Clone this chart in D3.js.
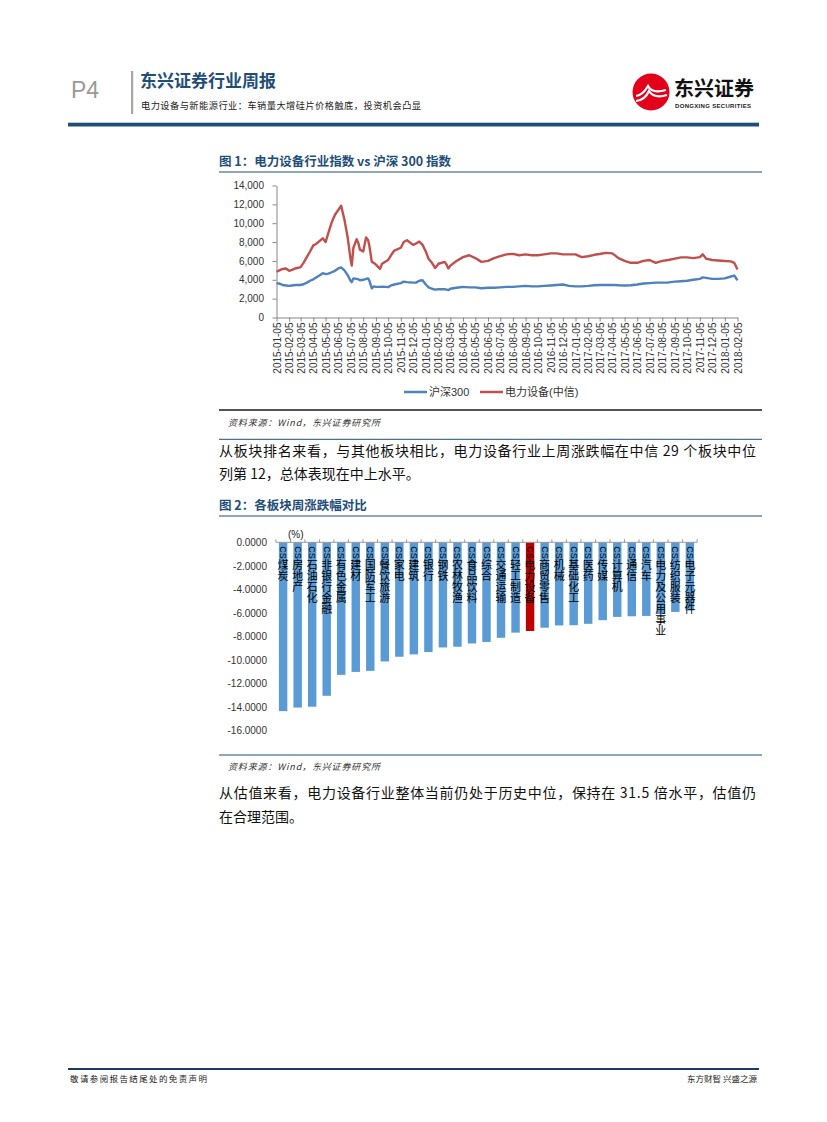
<!DOCTYPE html>
<html><head><meta charset="utf-8">
<script src="https://cdn.jsdelivr.net/npm/d3@7"></script>
<style>
body{margin:0;background:#fff;}
svg{display:block;}
text{font-family:"Liberation Sans","Noto Sans CJK SC",sans-serif;}
.cjk{font-family:"Noto Sans CJK SC",sans-serif;}
</style></head><body>
<svg id="page" width="827" height="1122"></svg>
<script>
// ---------- Chart 1 data ----------
const lineDates = [
"2015-01-05","2015-01-12","2015-01-20","2015-01-28",
"2015-02-05","2015-02-12","2015-02-20",
"2015-03-05","2015-03-12","2015-03-20","2015-03-28",
"2015-04-05","2015-04-12","2015-04-20","2015-04-28",
"2015-05-05","2015-05-12","2015-05-20","2015-05-28",
"2015-06-05","2015-06-12","2015-06-20","2015-06-28",
"2015-07-05","2015-07-08","2015-07-12","2015-07-20","2015-07-24","2015-07-28",
"2015-08-05","2015-08-12","2015-08-17","2015-08-20","2015-08-26","2015-08-31",
"2015-09-05","2015-09-15","2015-09-20",
"2015-10-05","2015-10-12","2015-10-20",
"2015-11-05","2015-11-12","2015-11-20",
"2015-12-05","2015-12-12","2015-12-20","2015-12-28",
"2016-01-05","2016-01-12","2016-01-20","2016-01-28",
"2016-02-05","2016-02-20","2016-02-25",
"2016-02-29","2016-03-05","2016-03-20",
"2016-04-05","2016-04-20","2016-05-05","2016-05-20","2016-06-05","2016-06-20",
"2016-07-05","2016-07-20","2016-08-05","2016-08-20","2016-09-05","2016-09-20",
"2016-10-05","2016-10-20","2016-11-05","2016-11-20","2016-12-05","2016-12-20",
"2017-01-05","2017-01-20","2017-02-05","2017-02-20","2017-03-05","2017-03-20",
"2017-04-05","2017-04-20","2017-05-05","2017-05-20","2017-06-05","2017-06-20",
"2017-07-05","2017-07-20","2017-08-05","2017-08-20","2017-09-05","2017-09-20",
"2017-10-05","2017-10-20","2017-11-05","2017-11-12","2017-11-20",
"2017-12-05","2017-12-20",
"2018-01-05","2018-01-20","2018-01-28","2018-02-05"
];
const hs300 = [
3620,3600,3450,3400,
3350,3400,3450,
3450,3530,3700,3900,
4050,4250,4450,4700,
4600,4650,4800,4950,
5200,5320,5000,4500,
3900,3750,4150,4100,4050,3950,
4000,4100,4150,3900,3100,3300,
3250,3250,3270,
3220,3400,3500,
3650,3800,3750,
3700,3700,3900,3950,
3500,3200,3050,2950,
3000,3000,2950,
2900,3050,3150,
3250,3200,3200,3100,3150,3150,
3200,3250,3250,3300,3350,3300,
3300,3350,3400,3450,3500,3350,
3300,3300,3350,3420,3440,3450,
3460,3420,3400,3420,3500,3600,
3650,3700,3700,3720,3800,3850,
3900,4000,4100,4250,4200,
4100,4100,
4150,4350,4450,3950
];
const dlsb = [
4850,5000,5150,5200,
4950,5050,5200,
5350,5800,6400,7000,
7650,7800,8100,8400,
8000,9000,10100,10900,
11400,11850,10400,8500,
6200,5500,7400,8300,7900,7200,
7000,8500,8200,7600,5900,5800,
5600,5150,5700,
6100,6600,7100,
7400,8000,8200,
7700,7850,8050,7700,
7000,6200,5800,5250,
5700,5900,5600,
5200,5500,6000,
6400,6600,6300,5900,6000,6300,
6500,6700,6750,6600,6700,6600,
6600,6700,6800,6800,6700,6700,
6700,6400,6500,6650,6730,6850,
6800,6300,6000,5800,5800,6000,
6100,5800,6000,6100,6250,6380,
6380,6300,6400,6700,6250,
6100,6050,
6000,5950,5800,5100
];
const lineTickLabels = [
"2015-01-05","2015-02-05","2015-03-05","2015-04-05","2015-05-05","2015-06-05",
"2015-07-05","2015-08-05","2015-09-05","2015-10-05","2015-11-05","2015-12-05",
"2016-01-05","2016-02-05","2016-03-05","2016-04-05","2016-05-05","2016-06-05",
"2016-07-05","2016-08-05","2016-09-05","2016-10-05","2016-11-05","2016-12-05",
"2017-01-05","2017-02-05","2017-03-05","2017-04-05","2017-05-05","2017-06-05",
"2017-07-05","2017-08-05","2017-09-05","2017-10-05","2017-11-05","2017-12-05",
"2018-01-05","2018-02-05"
];
const lineYTicks = [0,2000,4000,6000,8000,10000,12000,14000];
const lineSeriesNames = ["沪深300","电力设备(中信)"];
const lineColors = ["#4F81BD","#C0504D"];

// ---------- Chart 2 data ----------
const barCategories = ["CS煤炭","CS房地产","CS石油石化","CS非银行金融","CS有色金属","CS建材","CS国防军工","CS餐饮旅游","CS家电","CS建筑","CS银行","CS钢铁","CS农林牧渔","CS食品饮料","CS综合","CS交通运输","CS轻工制造","CS电力设备","CS商贸零售","CS机械","CS基础化工","CS医药","CS传媒","CS计算机","CS通信","CS汽车","CS电力及公用事业","CS纺织服装","CS电子元器件"];
const barValues = [-14.35,-14.05,-13.98,-13.05,-11.27,-11.02,-10.93,-10.13,-9.73,-9.53,-9.33,-8.94,-8.88,-8.6,-8.47,-8.12,-7.68,-7.54,-7.26,-7.07,-7.05,-6.93,-6.62,-6.34,-6.29,-6.26,-6.1,-5.92,-5.8];
const barYTicks = [0,-2,-4,-6,-8,-10,-12,-14,-16];
const barHighlight = "CS电力设备";

// ---------- Page ----------
const navy = "#1F4E79";
const svg = d3.select("#page");
svg.append("rect").attr("width",827).attr("height",1122).attr("fill","#fff");

// header
svg.append("text").attr("x",71).attr("y",98).attr("font-size",23).attr("fill","#9a9a9a").text("P4");
svg.append("rect").attr("x",131).attr("y",71).attr("width",2.2).attr("height",43).attr("fill","#a6a6a6");
svg.append("text").attr("class","cjk").attr("x",140).attr("y",86.5).attr("font-size",17).attr("font-weight","bold")
  .attr("fill",navy).text("东兴证券行业周报");
svg.append("text").attr("class","cjk").attr("x",141).attr("y",109).attr("font-size",9.2).attr("fill","#222")
  .attr("textLength",280).attr("lengthAdjust","spacing").text("电力设备与新能源行业：车销量大增硅片价格触底，投资机会凸显");
// logo
const logo = svg.append("g");
logo.append("circle").attr("cx",651).attr("cy",92).attr("r",18.5).attr("fill","#E3001B");
logo.append("path").attr("d","M636,96 Q643,95 648,86 Q652,94 666,90").attr("fill","none").attr("stroke","#fff").attr("stroke-width",2.2);
logo.append("path").attr("d","M636,101 Q645,100 649,91 Q654,99 667,95").attr("fill","none").attr("stroke","#fff").attr("stroke-width",2.2);
logo.append("text").attr("class","cjk").attr("x",674).attr("y",96).attr("font-size",20).attr("font-weight","bold")
  .attr("fill","#111").attr("textLength",80).text("东兴证券");
logo.append("text").attr("x",675).attr("y",107.5).attr("font-size",6).attr("font-weight","bold")
  .attr("fill","#222").attr("textLength",76).text("DONGXING SECURITIES");
svg.append("rect").attr("x",68).attr("y",122.7).attr("width",691).attr("height",3.8).attr("fill",navy);

// ---------- Figure 1 ----------
svg.append("text").attr("class","cjk").attr("x",219).attr("y",166).attr("font-size",12.5).attr("font-weight","bold")
  .attr("fill",navy).text("图 1：电力设备行业指数 vs 沪深 300 指数");
svg.append("line").attr("x1",219).attr("x2",762).attr("y1",172).attr("y2",172).attr("stroke",navy).attr("stroke-width",1);

const parse = d3.timeParse("%Y-%m-%d");
const tickDates = lineTickLabels.map(parse);
const x1 = d3.scaleTime().domain([tickDates[0], tickDates[tickDates.length-1]]).range([276.5, 737.5]);
const y1 = d3.scaleLinear().domain([0,14000]).range([317.5,185.5]);

const g1 = svg.append("g");
const yAx1 = g1.append("g").attr("transform","translate(276.5,0)")
  .call(d3.axisLeft(y1).tickValues(lineYTicks).tickFormat(d3.format(",")).tickSize(4).tickSizeOuter(0));
yAx1.selectAll("path,line").attr("stroke","#868686");
yAx1.selectAll("text").attr("font-size",10).attr("fill","#333").attr("x",-12.5);
const xAx1 = g1.append("g").attr("transform","translate(0,317.5)")
  .call(d3.axisBottom(x1).tickValues(tickDates).tickFormat(d3.timeFormat("%Y-%m-%d")).tickSize(4).tickSizeOuter(0));
xAx1.selectAll("path,line").attr("stroke","#868686");
xAx1.selectAll("text").attr("font-size",10).attr("fill","#333")
  .attr("transform","rotate(-90)").attr("text-anchor","end").attr("x",-5).attr("y",0).attr("dy","0.35em");

const series = [hs300, dlsb];
const line = d3.line().x(d=>x1(d.date)).y(d=>y1(d.v));
series.forEach((vals,i)=>{
  const data = lineDates.map((s,j)=>({date:parse(s), v:vals[j]}));
  g1.append("path").datum(data).attr("d",line).attr("fill","none")
    .attr("stroke",lineColors[i]).attr("stroke-width",2.4).attr("stroke-linejoin","round");
});
// legend
const legX = [404, 480];
lineSeriesNames.forEach((n,i)=>{
  g1.append("line").attr("x1",legX[i]).attr("x2",legX[i]+23).attr("y1",392).attr("y2",392)
    .attr("stroke",lineColors[i]).attr("stroke-width",2.5);
  g1.append("text").attr("x",legX[i]+25).attr("y",396).attr("font-size",11).attr("fill","#333").text(n);
});
svg.append("line").attr("x1",219).attr("x2",762).attr("y1",410).attr("y2",410).attr("stroke","#1a1a1a").attr("stroke-width",1.5);
svg.append("text").attr("class","cjk").attr("x",228).attr("y",426).attr("font-size",9).attr("font-style","italic")
  .attr("fill","#333").attr("textLength",152).attr("lengthAdjust","spacing").text("资料来源：Wind，东兴证券研究所");
svg.append("line").attr("x1",219).attr("x2",762).attr("y1",439.3).attr("y2",439.3).attr("stroke",navy).attr("stroke-width",1);

// paragraph 1
svg.append("text").attr("class","cjk").attr("x",219).attr("y",456).attr("font-size",14).attr("fill","#111")
  .attr("textLength",537).attr("lengthAdjust","spacing").text("从板块排名来看，与其他板块相比，电力设备行业上周涨跌幅在中信 29 个板块中位");
svg.append("text").attr("class","cjk").attr("x",219).attr("y",479).attr("font-size",14).attr("fill","#111")
  .text("列第 12，总体表现在中上水平。");

// ---------- Figure 2 ----------
svg.append("text").attr("class","cjk").attr("x",219).attr("y",509.5).attr("font-size",12.5).attr("font-weight","bold")
  .attr("fill",navy).text("图 2：各板块周涨跌幅对比");
svg.append("line").attr("x1",219).attr("x2",762).attr("y1",516).attr("y2",516).attr("stroke",navy).attr("stroke-width",1);

const x2 = d3.scaleBand().domain(barCategories).range([276,697]).paddingInner(0.42).paddingOuter(0.2);
const y2 = d3.scaleLinear().domain([-16,0]).range([730.5,542.3]);
const g2 = svg.append("g");
const yAx2 = g2.append("g").attr("transform","translate(276,0)")
  .call(d3.axisLeft(y2).tickValues(barYTicks).tickFormat(d=>d.toFixed(4)).tickSize(0));
yAx2.select(".domain").remove();
yAx2.selectAll("text").attr("font-size",10).attr("fill","#333").attr("x",-9);
g2.append("text").attr("x",288).attr("y",538).attr("font-size",10).attr("fill","#222").text("(%)");

g2.selectAll("rect.bar").data(barCategories).join("rect").attr("class","bar")
  .attr("x",c=>x2(c)).attr("width",x2.bandwidth())
  .attr("y",(c,i)=>y2(0)).attr("height",(c,i)=>y2(barValues[i])-y2(0))
  .attr("fill",c=>c===barHighlight?"#C00000":"#5B9BD5");
// category axis at zero
const step = x2.step(), gap = step - x2.bandwidth();
g2.append("line").attr("x1",x2.range()[0]).attr("x2",x2.range()[1]).attr("y1",y2(0)).attr("y2",y2(0))
  .attr("stroke","#9a9a9a").attr("stroke-width",1);
const bounds = barCategories.map(c=>x2(c)-gap/2).concat([x2(barCategories[barCategories.length-1])+x2.bandwidth()+gap/2]);
g2.selectAll("line.tk").data(bounds).join("line").attr("class","tk")
  .attr("x1",d=>d).attr("x2",d=>d).attr("y1",y2(0)-3).attr("y2",y2(0)).attr("stroke","#9a9a9a");
// vertical labels
const lab = g2.selectAll("text.lab").data(barCategories).join("text").attr("class","lab cjk")
  .attr("x",c=>x2(c)+x2.bandwidth()/2).attr("y",y2(0)+4)
  .style("writing-mode","vertical-rl").attr("font-size",11).attr("fill","#000");
lab.append("tspan").attr("font-size",9).attr("font-family","Liberation Sans").text("CS");
lab.append("tspan").text(c=>c.slice(2));

svg.append("line").attr("x1",219).attr("x2",762).attr("y1",755).attr("y2",755).attr("stroke",navy).attr("stroke-width",1);
svg.append("text").attr("class","cjk").attr("x",228).attr("y",770).attr("font-size",9).attr("font-style","italic")
  .attr("fill","#333").attr("textLength",152).attr("lengthAdjust","spacing").text("资料来源：Wind，东兴证券研究所");

// paragraph 2
svg.append("text").attr("class","cjk").attr("x",219).attr("y",798).attr("font-size",14).attr("fill","#111")
  .attr("textLength",537).attr("lengthAdjust","spacing").text("从估值来看，电力设备行业整体当前仍处于历史中位，保持在 31.5 倍水平，估值仍");
svg.append("text").attr("class","cjk").attr("x",219).attr("y",821.5).attr("font-size",14).attr("fill","#111")
  .text("在合理范围。");

// footer
svg.append("line").attr("x1",68).attr("x2",759).attr("y1",1069).attr("y2",1069).attr("stroke","#1F3864").attr("stroke-width",2);
svg.append("text").attr("class","cjk").attr("x",70).attr("y",1082).attr("font-size",8.5).attr("fill","#222")
  .attr("textLength",137).attr("lengthAdjust","spacing").text("敬请参阅报告结尾处的免责声明");
svg.append("text").attr("class","cjk").attr("x",757).attr("y",1082).attr("font-size",8.5).attr("fill","#222")
  .attr("text-anchor","end").text("东方财智 兴盛之源");
</script>
</body></html>
